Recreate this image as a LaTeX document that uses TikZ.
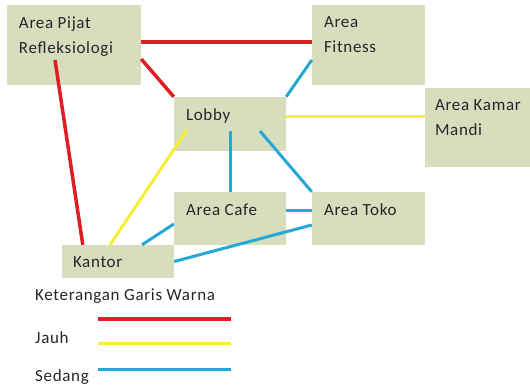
\documentclass[tikz,border=0pt]{standalone}
\usepackage{fontspec}
\setmainfont{Carlito}[LetterSpace=4]
\definecolor{boxfill}{RGB}{214,222,190}
\definecolor{jauh}{RGB}{222,30,34}
\definecolor{kuning}{RGB}{246,240,52}
\definecolor{sedang}{RGB}{38,168,214}
\begin{document}
\begin{tikzpicture}[x=1pt,y=-1pt,
    every node/.style={font=\fontsize{17}{25}\selectfont,text=black!85},
    box/.style 2 args={fill=boxfill,inner sep=0pt,minimum width=#1,minimum height=#2},
    txt/.style={anchor=north west,align=left,inner sep=0pt,xshift=12pt,yshift=-12pt},
    merah/.style={draw=jauh,line width=3.5pt},
    kuning/.style={draw=kuning,line width=3pt},
    biru/.style={draw=sedang,line width=3pt}]
    \useasboundingbox (0,0) rectangle (530,387);

    \node[box={134pt}{80pt}] (pijat) at (74,45) {};
    \node[box={113pt}{80pt}] (fitness) at (368.5,45) {};
    \node[box={105pt}{79pt}] (kamar) at (477.5,127.5) {};
    \node[box={112pt}{54pt}] (lobby) at (230,124) {};
    \node[box={112pt}{53pt}] (cafe) at (230,218.5) {};
    \node[box={113pt}{53pt}] (toko) at (368.5,218.5) {};
    \node[box={112pt}{33pt}] (kantor) at (118,261.5) {};

    \node[txt] (tpijat) at (pijat.north west) {Area Pijat\\Refleksiologi};
    \node[txt] (tfitness) at (fitness.north west) {Area\\Fitness};
    \node[txt,xshift=-2pt] (tkamar) at (kamar.north west) {Area Kamar\\Mandi};
    \node[txt] (tlobby) at (lobby.north west) {Lobby};
    \node[txt] (tcafe) at (cafe.north west) {Area Cafe};
    \node[txt] (ttoko) at (toko.north west) {Area Toko};
    \node[anchor=west,inner sep=0pt] (tkantor) at ([xshift=11pt,yshift=-1pt]kantor.west) {Kantor};

    % jauh
    \draw[merah] ([yshift=3pt]pijat.east) -- ([yshift=3pt]fitness.west);
    \draw[merah] ([yshift=-14pt]pijat.east) -- (lobby.north west);
    \draw[merah] ([xshift=-19pt,yshift=-15pt]pijat.center) -- ([xshift=21pt]kantor.north west);
    % kuning
    \draw[kuning] ([xshift=-43pt,yshift=-6pt]lobby.center) -- ([xshift=-8pt]kantor.north);
    \draw[kuning] ([yshift=7pt]lobby.east) -- ([yshift=10.5pt]kamar.west);
    % sedang
    \draw[biru] (lobby.north east) -- ([yshift=-15pt]fitness.west);
    \draw[biru] ([yshift=-7pt]lobby.center) -- (cafe.north);
    \draw[biru] ([xshift=30pt,yshift=-7pt]lobby.center) -- (toko.north west);
    \draw[biru] ([yshift=7.5pt]cafe.east) -- ([yshift=7.5pt]toko.west);
    \draw[biru] ([yshift=-5.5pt]cafe.west) -- ([xshift=24pt]kantor.north);
    \draw[biru] ([yshift=-6.5pt]toko.west) -- (kantor.east);

    % keterangan
    \node[anchor=west,inner sep=0pt] (ket) at (35,296) {Keterangan Garis Warna};
    \node[anchor=west,inner sep=0pt] (tjauh) at (35,338) {Jauh};
    \node[anchor=base west,inner sep=0pt] (tsedang) at (35,381.5) {Sedang};
    \coordinate (m1) at (98,319);  \coordinate (m2) at (231,319);
    \coordinate (k1) at (98,343);  \coordinate (k2) at (231,343);
    \coordinate (b1) at (98,369);  \coordinate (b2) at (231,369);
    \draw[merah] (m1) -- (m2);
    \draw[kuning] (k1) -- (k2);
    \draw[biru] (b1) -- (b2);
\end{tikzpicture}
\end{document}
